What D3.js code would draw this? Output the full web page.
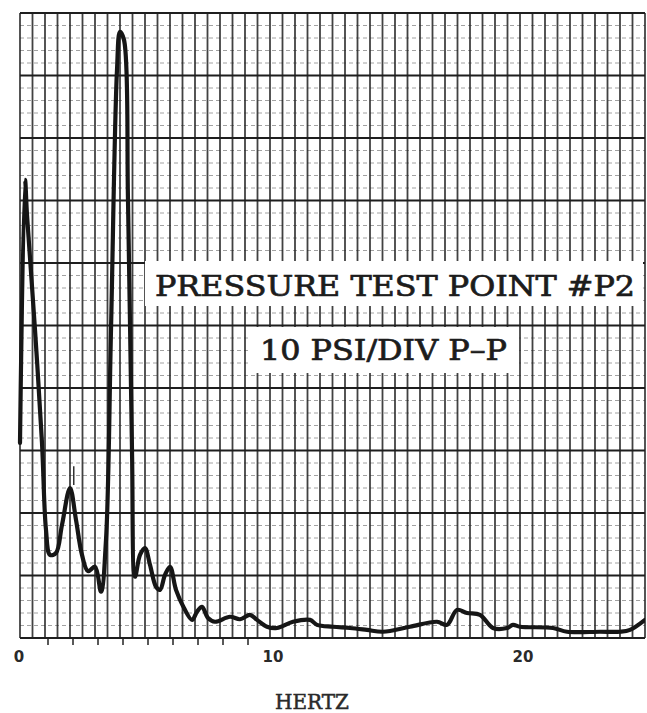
<!DOCTYPE html>
<html>
<head>
<meta charset="utf-8">
<script src="https://cdn.jsdelivr.net/npm/d3@7"></script>
<style>
  html, body { margin: 0; padding: 0; background: #fff; }
  svg { display: block; }
</style>
</head>
<body>
<svg id="chart" width="647" height="713"></svg>
<script>
// ---- Data ----
const hertz = [0.0, 0.2, 0.28, 0.6, 0.88, 1.04, 1.2, 1.44, 1.68, 2.0, 2.24, 2.48, 2.72, 3.0, 3.24, 3.44, 3.64, 3.88, 4.0, 4.16, 4.32, 4.48, 4.6, 4.8, 5.0, 5.2, 5.44, 5.6, 5.8, 6.0, 6.24, 6.56, 6.88, 7.08, 7.28, 7.52, 7.8, 8.4, 8.8, 9.2, 9.48, 9.88, 10.28, 10.92, 11.6, 11.88, 12.52, 13.2, 13.88, 14.52, 15.6, 16.68, 17.08, 17.48, 17.88, 18.4, 18.92, 19.48, 19.72, 20.0, 21.32, 21.88, 23.2, 24.0, 24.4, 25.0];
const pressure = [31.2, 73.3, 67.7, 49.3, 31.2, 17.3, 13.3, 13.6, 18.1, 24.0, 18.9, 13.3, 10.7, 11.4, 7.4, 15.7, 49.3, 90.9, 97.0, 95.7, 70.0, 30.0, 9.8, 13.3, 14.4, 11.7, 8.2, 7.7, 10.1, 11.4, 7.7, 4.8, 2.9, 4.2, 5.0, 3.2, 2.6, 3.4, 3.0, 3.7, 2.9, 1.8, 1.6, 2.6, 2.9, 2.1, 1.8, 1.6, 1.3, 1.0, 1.8, 2.6, 2.1, 4.5, 4.0, 3.7, 1.6, 1.6, 2.1, 1.8, 1.6, 1.0, 1.0, 1.0, 1.3, 2.9];
const xTickLabels = [0, 10, 20];
const xSmallTicks = [1, 2, 3, 4, 5, 6, 7, 8, 9];
const xAxisTitle = "HERTZ";
const noteLine1 = "PRESSURE TEST POINT #P2";
const noteLine2 = "10 PSI/DIV P\u2013P";

// ---- Layout ----
const pL = 20, pR = 645, pT = 13, pB = 638;
const svg = d3.select("#chart");

const x = d3.scaleLinear().domain([0, 25]).range([pL, pR]);
const y = d3.scaleLinear().domain([0, 100]).range([pB, pT]);

// ---- Grid ----
const grid = svg.append("g");
grid.selectAll("line.hmin").data(d3.range(0, 100.1, 2).filter(v => v % 10 !== 0))
  .join("line").attr("class", "hmin")
  .attr("x1", pL).attr("x2", pR)
  .attr("y1", d => y(d)).attr("y2", d => y(d))
  .attr("stroke", "#666").attr("stroke-width", 1)
  .attr("stroke-dasharray", "4,3").attr("opacity", 0.6);
grid.selectAll("line.v").data(d3.range(0, 25.01, 0.5))
  .join("line").attr("class", "v")
  .attr("x1", d => x(d)).attr("x2", d => x(d))
  .attr("y1", pT).attr("y2", pB)
  .attr("stroke", "#222").attr("stroke-width", 1.8).attr("opacity", 0.85);
grid.selectAll("line.hmaj").data(d3.range(0, 100.1, 10))
  .join("line").attr("class", "hmaj")
  .attr("x1", pL).attr("x2", pR)
  .attr("y1", d => y(d)).attr("y2", d => y(d))
  .attr("stroke", "#1e1e1e").attr("stroke-width", 1.9);

svg.append("g").selectAll("line").data(xSmallTicks).join("line")
  .attr("x1", d => x(d) + 3).attr("x2", d => x(d) + 3)
  .attr("y1", pB).attr("y2", pB + 7)
  .attr("stroke", "#222").attr("stroke-width", 1.5);

// ---- Text boxes ----
const serif = "DejaVu Serif, Liberation Serif, serif";
svg.append("rect").attr("x", 145).attr("y", 261).attr("width", 498).attr("height", 45).attr("fill", "#fff");
svg.append("rect").attr("x", 248).attr("y", 327).attr("width", 271).attr("height", 46).attr("fill", "#fff");
svg.append("text").attr("x", 155).attr("y", 296)
  .attr("font-family", serif).attr("font-size", 27)
  .attr("textLength", 480).attr("lengthAdjust", "spacingAndGlyphs")
  .attr("fill", "#1c1c1c").attr("stroke", "#1c1c1c").attr("stroke-width", 0.7)
  .text(noteLine1);
svg.append("text").attr("x", 260).attr("y", 360)
  .attr("font-family", serif).attr("font-size", 27)
  .attr("textLength", 247).attr("lengthAdjust", "spacingAndGlyphs")
  .attr("fill", "#1c1c1c").attr("stroke", "#1c1c1c").attr("stroke-width", 0.7)
  .text(noteLine2);

// ---- Curve ----
svg.append("clipPath").attr("id", "clip").append("rect")
  .attr("x", pL - 3).attr("y", pT).attr("width", pR - pL + 3).attr("height", pB - pT);
const pts = hertz.map((h, i) => [h, pressure[i]]);
const line = d3.line().x(d => x(d[0])).y(d => y(d[1])).curve(d3.curveCatmullRom.alpha(0.5));
svg.append("path").datum(pts)
  .attr("clip-path", "url(#clip)")
  .attr("d", line)
  .attr("fill", "none").attr("stroke", "#161616")
  .attr("stroke-width", 4.2).attr("stroke-linejoin", "round").attr("stroke-linecap", "round");

svg.append("line").attr("x1", x(2.15)).attr("x2", x(2.15))
  .attr("y1", y(27.5)).attr("y2", y(24.5))
  .attr("stroke", "#333").attr("stroke-width", 1.5);

// ---- Axis labels ----
svg.append("g").selectAll("text").data(xTickLabels).join("text")
  .attr("x", d => x(d) + (d === 0 ? -1 : 3)).attr("y", 662)
  .attr("text-anchor", "middle")
  .attr("font-family", "DejaVu Sans, sans-serif").attr("font-weight", "bold").attr("font-size", 15)
  .attr("fill", "#2a2a2a").text(d => d);
svg.append("text").attr("x", 312).attr("y", 709)
  .attr("text-anchor", "middle")
  .attr("font-family", serif).attr("font-size", 20)
  .attr("fill", "#2a2a2a").attr("stroke", "#2a2a2a").attr("stroke-width", 0.5)
  .text(xAxisTitle);
</script>
</body>
</html>
